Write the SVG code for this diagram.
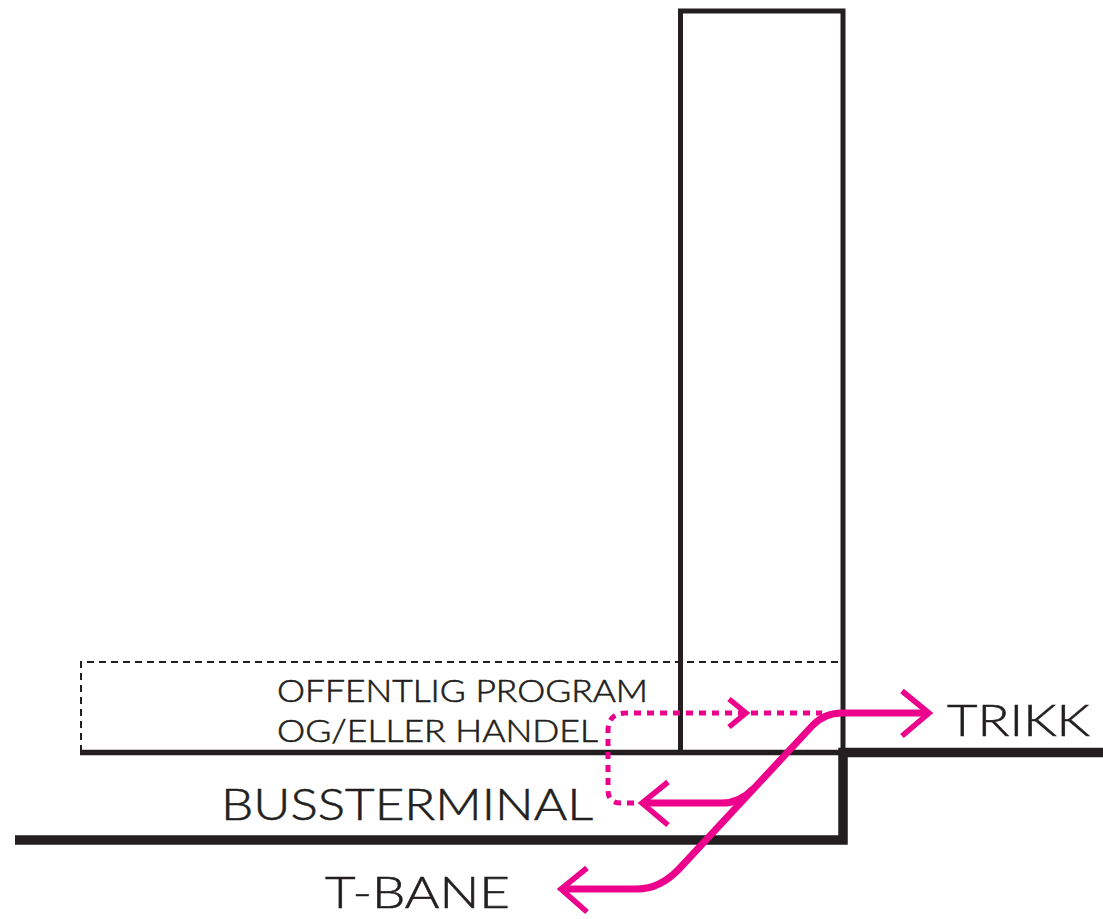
<svg xmlns="http://www.w3.org/2000/svg" width="1103" height="919" viewBox="0 0 1103 919">
  <style>
    .ink { fill: none; stroke: #231F20; stroke-linecap: butt; stroke-linejoin: miter; }
    .flow { fill: none; stroke: #EC008C; stroke-width: 7; stroke-linecap: butt; stroke-linejoin: miter; }
    .flow-dot { fill: none; stroke: #EC008C; stroke-width: 5; stroke-dasharray: 7 6; }
    .head { fill: none; stroke: #EC008C; stroke-width: 5.5; stroke-linecap: butt; stroke-linejoin: miter; }
    .label { font-family: Lato, "Open Sans", sans-serif; fill: #231F20; stroke: #231F20; stroke-width: 0.6; font-weight: 300; }
  </style>
  <rect width="1103" height="919" fill="#ffffff"/>

  <!-- building section -->
  <g id="tower">
    <path class="ink" stroke-width="5" d="M680.5,752 V11 H843 V752"/>
  </g>
  <g id="public-program">
    <path class="ink" stroke-width="2" stroke-dasharray="7 5" d="M81,752 V662 H843"/>
    <text class="label" x="277" y="702" font-size="31" textLength="371" lengthAdjust="spacingAndGlyphs">OFFENTLIG PROGRAM</text>
    <text class="label" x="277" y="742" font-size="31" textLength="321" lengthAdjust="spacingAndGlyphs">OG/ELLER HANDEL</text>
  </g>
  <g id="ground">
    <path class="ink" stroke-width="5.5" d="M80,752.5 H843"/>
    <path class="ink" stroke-width="9.5" d="M1103,752.5 H843 V840 H15"/>
  </g>
  <g id="trikk">
    <text class="label" x="947" y="736" font-size="44" textLength="143" lengthAdjust="spacingAndGlyphs">TRIKK</text>
  </g>
  <g id="bussterminal">
    <text class="label" x="221" y="820" font-size="44" textLength="372" lengthAdjust="spacingAndGlyphs">BUSSTERMINAL</text>
  </g>
  <g id="t-bane">
    <text class="label" x="325" y="908" font-size="44" textLength="185" lengthAdjust="spacingAndGlyphs">T-BANE</text>
  </g>

  <!-- movement lines -->
  <g id="connectors">
    <path class="flow-dot" d="M634,803 H621 Q608,803 608,790 V731 Q608,713 626,713 H822"/>
    <path class="head" stroke-width="3.5" d="M729,699 L746,713 L729,727"/>
    <path class="flow" d="M928,713 H842 Q824,713 812,726 L679,869 Q660,889 637,889 H563"/>
    <path class="flow" d="M643,803 H722 Q740,803 753,789"/>
    <path class="head" d="M902,691 L929,713 L902,736"/>
    <path class="head" d="M668,782 L642,803 L668,825"/>
    <path class="head" d="M587,868 L561,889 L587,912"/>
  </g>
</svg>
